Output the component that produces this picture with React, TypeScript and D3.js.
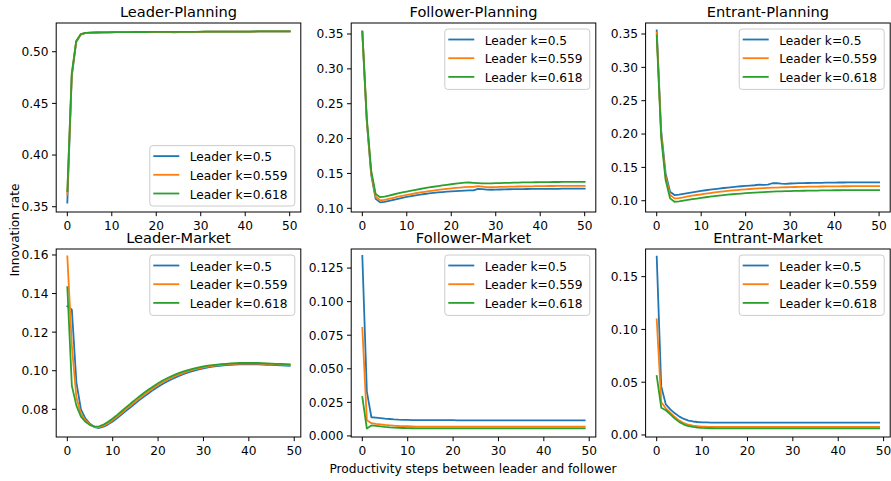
import React from "react";
import * as d3 from "d3";

// ---------- data ----------
const seriesNames = ["Leader k=0.5", "Leader k=0.559", "Leader k=0.618"];
const seriesColors = ["#1f77b4", "#ff7f0e", "#2ca02c"];
const panelTitles = [
  "Leader-Planning", "Follower-Planning", "Entrant-Planning",
  "Leader-Market", "Follower-Market", "Entrant-Market",
];

// Leader-Planning (x = 0..50)
const lpBlue = [0.354, 0.476, 0.5095, 0.5165, 0.518, 0.5183, 0.5185, 0.5186, 0.5187, 0.5188, 0.5188, 0.5189, 0.5189, 0.519, 0.519, 0.519, 0.5191, 0.5191, 0.5191, 0.5191, 0.5192, 0.5192, 0.5191, 0.5189, 0.5188, 0.5189, 0.5192, 0.5193, 0.5193, 0.5193, 0.5193, 0.5194, 0.5194, 0.5194, 0.5194, 0.5194, 0.5195, 0.5195, 0.5195, 0.5195, 0.5195, 0.5195, 0.5195, 0.5196, 0.5196, 0.5196, 0.5196, 0.5196, 0.5196, 0.5196, 0.5196];
const lpOrange = [0.362, 0.478, 0.51, 0.5167, 0.5181, 0.5184, 0.5185, 0.5186, 0.5187, 0.5188, 0.5188, 0.5189, 0.5189, 0.519, 0.519, 0.519, 0.5191, 0.5191, 0.5191, 0.5191, 0.5192, 0.5192, 0.5192, 0.5192, 0.5192, 0.5192, 0.5193, 0.5193, 0.5193, 0.5193, 0.5193, 0.5194, 0.5194, 0.5194, 0.5194, 0.5194, 0.5195, 0.5195, 0.5195, 0.5195, 0.5195, 0.5195, 0.5195, 0.5196, 0.5196, 0.5196, 0.5196, 0.5196, 0.5196, 0.5196, 0.5196];
const lpGreen = [0.365, 0.479, 0.5105, 0.517, 0.5182, 0.5184, 0.5186, 0.5187, 0.5188, 0.5188, 0.5189, 0.5189, 0.519, 0.519, 0.519, 0.5191, 0.5191, 0.5191, 0.5191, 0.5192, 0.5192, 0.5192, 0.5192, 0.5192, 0.5192, 0.5193, 0.5193, 0.5193, 0.5193, 0.5193, 0.5194, 0.5194, 0.5194, 0.5194, 0.5194, 0.5195, 0.5195, 0.5195, 0.5195, 0.5195, 0.5195, 0.5195, 0.5196, 0.5196, 0.5196, 0.5196, 0.5196, 0.5196, 0.5196, 0.5196, 0.5196];

// Follower-Planning (x = 0..50)
const fpBlue = [0.3535, 0.225, 0.148, 0.1135, 0.1085, 0.1092, 0.1106, 0.1121, 0.1136, 0.115, 0.1163, 0.1175, 0.1186, 0.1196, 0.1205, 0.1213, 0.122, 0.1227, 0.1233, 0.1238, 0.1243, 0.1247, 0.1251, 0.1255, 0.1256, 0.1256, 0.1278, 0.1275, 0.1268, 0.1266, 0.1268, 0.127, 0.1272, 0.1273, 0.1274, 0.1275, 0.1276, 0.1277, 0.1278, 0.1278, 0.1279, 0.1279, 0.128, 0.128, 0.128, 0.1281, 0.1281, 0.1281, 0.1281, 0.1282, 0.1282];
const fpOrange = [0.3535, 0.227, 0.15, 0.1165, 0.1115, 0.1122, 0.1136, 0.1151, 0.1166, 0.118, 0.1193, 0.1205, 0.1216, 0.1227, 0.1237, 0.1246, 0.1255, 0.1263, 0.1271, 0.1278, 0.1285, 0.1292, 0.1298, 0.1305, 0.1306, 0.1306, 0.1318, 0.131, 0.1303, 0.1302, 0.1304, 0.1306, 0.1308, 0.131, 0.1312, 0.1313, 0.1314, 0.1315, 0.1316, 0.1317, 0.1318, 0.1319, 0.132, 0.132, 0.1321, 0.1321, 0.1322, 0.1322, 0.1322, 0.1323, 0.1323];
const fpGreen = [0.3535, 0.23, 0.154, 0.1205, 0.116, 0.1168, 0.1183, 0.1198, 0.1213, 0.1227, 0.124, 0.1253, 0.1265, 0.1277, 0.1288, 0.1299, 0.1309, 0.1319, 0.1328, 0.1337, 0.1345, 0.1353, 0.136, 0.1367, 0.137, 0.1366, 0.1362, 0.1358, 0.1357, 0.1358, 0.136, 0.1362, 0.1364, 0.1366, 0.1368, 0.1369, 0.1371, 0.1372, 0.1373, 0.1374, 0.1375, 0.1376, 0.1376, 0.1377, 0.1377, 0.1378, 0.1378, 0.1378, 0.1379, 0.1379, 0.1379];

// Entrant-Planning (x = 0..50)
const epBlue = [0.3555, 0.205, 0.141, 0.1135, 0.1085, 0.109, 0.1102, 0.1114, 0.1126, 0.1137, 0.1147, 0.1157, 0.1166, 0.1175, 0.1183, 0.1191, 0.1198, 0.1205, 0.1211, 0.1217, 0.1222, 0.1227, 0.1232, 0.124, 0.1238, 0.124, 0.1262, 0.1263, 0.1255, 0.1254, 0.1258, 0.1261, 0.1263, 0.1265, 0.1266, 0.1267, 0.1268, 0.1269, 0.127, 0.1271, 0.1272, 0.1273, 0.1273, 0.1274, 0.1274, 0.1275, 0.1275, 0.1275, 0.1276, 0.1276, 0.1276];
const epOrange = [0.352, 0.2, 0.136, 0.1085, 0.1035, 0.104, 0.1052, 0.1064, 0.1075, 0.1086, 0.1096, 0.1106, 0.1115, 0.1124, 0.1132, 0.114, 0.1147, 0.1154, 0.116, 0.1166, 0.1171, 0.1176, 0.1181, 0.1185, 0.1189, 0.1192, 0.1195, 0.1198, 0.12, 0.1202, 0.1204, 0.1206, 0.1208, 0.1209, 0.121, 0.1211, 0.1212, 0.1213, 0.1214, 0.1215, 0.1216, 0.1216, 0.1217, 0.1217, 0.1218, 0.1218, 0.1218, 0.1219, 0.1219, 0.1219, 0.1219];
const epGreen = [0.348, 0.195, 0.131, 0.1035, 0.0985, 0.099, 0.1001, 0.1012, 0.1023, 0.1033, 0.1043, 0.1052, 0.1061, 0.1069, 0.1077, 0.1084, 0.1091, 0.1097, 0.1103, 0.1108, 0.1113, 0.1118, 0.1122, 0.1126, 0.113, 0.1133, 0.1136, 0.1139, 0.1141, 0.1143, 0.1145, 0.1147, 0.1149, 0.115, 0.1151, 0.1152, 0.1153, 0.1154, 0.1155, 0.1156, 0.1157, 0.1157, 0.1158, 0.1158, 0.1159, 0.1159, 0.1159, 0.116, 0.116, 0.116, 0.116];

// Leader-Market (x = 0..49)
const lmBlue = [0.1334, 0.1316, 0.094, 0.08, 0.0752, 0.0725, 0.0708, 0.0703, 0.071, 0.0722, 0.0737, 0.0755, 0.0774, 0.0793, 0.0812, 0.0831, 0.085, 0.0868, 0.0885, 0.0902, 0.0917, 0.0931, 0.0944, 0.0956, 0.0967, 0.0977, 0.0986, 0.0994, 0.1001, 0.1007, 0.1012, 0.1017, 0.1021, 0.1024, 0.1027, 0.1029, 0.1031, 0.1032, 0.1033, 0.1033, 0.1033, 0.1033, 0.1033, 0.1032, 0.1031, 0.103, 0.1029, 0.1028, 0.1027, 0.1026];
const lmOrange = [0.1593, 0.113, 0.0862, 0.0776, 0.0742, 0.0721, 0.0709, 0.0707, 0.0715, 0.0728, 0.0744, 0.0763, 0.0782, 0.0802, 0.0821, 0.084, 0.0859, 0.0877, 0.0894, 0.0911, 0.0926, 0.094, 0.0953, 0.0964, 0.0975, 0.0984, 0.0993, 0.1, 0.1007, 0.1012, 0.1017, 0.1021, 0.1025, 0.1028, 0.1031, 0.1033, 0.1035, 0.1036, 0.1037, 0.1037, 0.1037, 0.1037, 0.1037, 0.1036, 0.1035, 0.1034, 0.1033, 0.1032, 0.1031, 0.103];
const lmGreen = [0.1433, 0.0922, 0.0819, 0.0762, 0.0735, 0.0718, 0.071, 0.0712, 0.0721, 0.0735, 0.0752, 0.0771, 0.0791, 0.0811, 0.0831, 0.085, 0.0869, 0.0887, 0.0904, 0.092, 0.0935, 0.0949, 0.0961, 0.0972, 0.0982, 0.0991, 0.0999, 0.1006, 0.1012, 0.1017, 0.1022, 0.1026, 0.1029, 0.1032, 0.1034, 0.1036, 0.1038, 0.1039, 0.104, 0.104, 0.104, 0.104, 0.104, 0.1039, 0.1038, 0.1037, 0.1036, 0.1035, 0.1034, 0.1033];

// Follower-Market (x = 0..49)
const fmBlue = [0.134, 0.033, 0.0139, 0.0137, 0.0133, 0.0129, 0.0126, 0.0123, 0.0121, 0.012, 0.0119, 0.0118, 0.0117, 0.0117, 0.0117, 0.0117, 0.0117, 0.0117, 0.0117, 0.0117, 0.0117, 0.0116, 0.0116, 0.0116, 0.0116, 0.0116, 0.0116, 0.0116, 0.0116, 0.0116, 0.0116, 0.0116, 0.0116, 0.0116, 0.0116, 0.0116, 0.0116, 0.0116, 0.0116, 0.0116, 0.0116, 0.0116, 0.0116, 0.0116, 0.0116, 0.0116, 0.0116, 0.0116, 0.0116, 0.0116];
const fmOrange = [0.0805, 0.0116, 0.0095, 0.009, 0.0086, 0.0082, 0.0079, 0.0076, 0.0074, 0.0073, 0.0072, 0.0071, 0.007, 0.007, 0.007, 0.007, 0.007, 0.007, 0.007, 0.007, 0.0069, 0.0069, 0.0069, 0.0069, 0.0069, 0.0069, 0.0069, 0.0069, 0.0069, 0.0069, 0.0069, 0.0069, 0.0069, 0.0069, 0.0069, 0.0069, 0.0069, 0.0069, 0.0069, 0.0069, 0.0069, 0.0069, 0.0069, 0.0069, 0.0069, 0.0069, 0.0069, 0.0069, 0.0069, 0.0069];
const fmGreen = [0.029, 0.0055, 0.0078, 0.0075, 0.0071, 0.0067, 0.0064, 0.0062, 0.006, 0.0059, 0.0058, 0.0057, 0.0056, 0.0056, 0.0056, 0.0056, 0.0056, 0.0056, 0.0056, 0.0056, 0.0056, 0.0056, 0.0056, 0.0056, 0.0056, 0.0056, 0.0056, 0.0056, 0.0056, 0.0056, 0.0056, 0.0056, 0.0056, 0.0056, 0.0056, 0.0056, 0.0056, 0.0056, 0.0056, 0.0056, 0.0056, 0.0056, 0.0056, 0.0056, 0.0056, 0.0056, 0.0056, 0.0056, 0.0056, 0.0056];

// Entrant-Market (x = 0..49)
const emBlue = [0.169, 0.046, 0.029, 0.0243, 0.0205, 0.0174, 0.0152, 0.0137, 0.0128, 0.0123, 0.012, 0.0119, 0.0118, 0.0117, 0.0117, 0.0117, 0.0117, 0.0117, 0.0117, 0.0117, 0.0117, 0.0117, 0.0117, 0.0117, 0.0117, 0.0117, 0.0117, 0.0117, 0.0117, 0.0117, 0.0117, 0.0117, 0.0117, 0.0117, 0.0117, 0.0117, 0.0117, 0.0117, 0.0117, 0.0117, 0.0117, 0.0117, 0.0117, 0.0117, 0.0117, 0.0117, 0.0117, 0.0117, 0.0117, 0.0117];
const emOrange = [0.1096, 0.031, 0.0253, 0.0212, 0.017, 0.0136, 0.0112, 0.0097, 0.0088, 0.0083, 0.008, 0.0078, 0.0077, 0.0076, 0.0076, 0.0076, 0.0076, 0.0076, 0.0076, 0.0076, 0.0076, 0.0076, 0.0076, 0.0076, 0.0076, 0.0076, 0.0076, 0.0076, 0.0076, 0.0076, 0.0076, 0.0076, 0.0076, 0.0076, 0.0076, 0.0076, 0.0076, 0.0076, 0.0076, 0.0076, 0.0076, 0.0076, 0.0076, 0.0076, 0.0076, 0.0076, 0.0076, 0.0076, 0.0076, 0.0076];
const emGreen = [0.0559, 0.0259, 0.0234, 0.0196, 0.0155, 0.0122, 0.0099, 0.0085, 0.0076, 0.007, 0.0067, 0.0065, 0.0064, 0.0063, 0.0063, 0.0063, 0.0063, 0.0063, 0.0063, 0.0063, 0.0063, 0.0063, 0.0063, 0.0063, 0.0063, 0.0063, 0.0063, 0.0063, 0.0063, 0.0063, 0.0063, 0.0063, 0.0063, 0.0063, 0.0063, 0.0063, 0.0063, 0.0063, 0.0063, 0.0063, 0.0063, 0.0063, 0.0063, 0.0063, 0.0063, 0.0063, 0.0063, 0.0063, 0.0063, 0.0063];

// tick labels
const xTicks = [0, 10, 20, 30, 40, 50];
const lpTicks = [0.35, 0.4, 0.45, 0.5];
const fpTicks = [0.1, 0.15, 0.2, 0.25, 0.3, 0.35];
const epTicks = [0.1, 0.15, 0.2, 0.25, 0.3, 0.35];
const lmTicks = [0.08, 0.1, 0.12, 0.14, 0.16];
const fmTicks = [0, 0.025, 0.05, 0.075, 0.1, 0.125];
const emTicks = [0, 0.05, 0.1, 0.15];
const yTickFormats = [".2f", ".2f", ".2f", ".2f", ".3f", ".2f"];
const yDomains: [number, number][] = [
  [0.3449, 0.5278], [0.0947, 0.3658], [0.0831, 0.3665],
  [0.06564, 0.1631], [-0.0008, 0.1392], [-0.0019, 0.1762],
];
const xLabel = "Productivity steps between leader and follower";
const yLabel = "Innovation rate";

// ---------- layout ----------
const W = 891, H = 481;
const colLeft = [56.2, 351.2, 645.6];
const axW = 244.6;
const rowBox = [{ top: 23, bottom: 212 }, { top: 249, bottom: 437 }];
const FONT = "'DejaVu Sans', sans-serif";
const tickFS = 12.2;
const titleFS = 14.6;

const panels = [
  { series: [lpBlue, lpOrange, lpGreen], ticks: lpTicks, legend: "lower" },
  { series: [fpBlue, fpOrange, fpGreen], ticks: fpTicks, legend: "upper" },
  { series: [epBlue, epOrange, epGreen], ticks: epTicks, legend: "upper" },
  { series: [lmBlue, lmOrange, lmGreen], ticks: lmTicks, legend: "upper" },
  { series: [fmBlue, fmOrange, fmGreen], ticks: fmTicks, legend: "upper" },
  { series: [emBlue, emOrange, emGreen], ticks: emTicks, legend: "upper" },
];

function Panel({ idx }: { idx: number }) {
  const p = panels[idx];
  const col = idx % 3;
  const row = Math.floor(idx / 3);
  const left = colLeft[col];
  const right = left + axW;
  const { top, bottom } = rowBox[row];
  const n = p.series[0].length - 1;
  const pad = n * 0.05;
  const x = d3.scaleLinear().domain([-pad, n + pad]).range([left, right]);
  const y = d3.scaleLinear().domain(yDomains[idx]).range([bottom, top]);
  const line = d3.line<number>().x((_, i) => x(i)).y((v) => y(v));
  const fmt = d3.format(yTickFormats[idx]);
  const xt = xTicks.filter((t) => t >= x.domain()[0] && t <= x.domain()[1]);

  const lgW = 145, lgH = 60.4;
  const lgX = right - 6 - lgW;
  const lgY = p.legend === "lower" ? bottom - 6 - lgH : top + 6;

  return (
    <g>
      <rect x={left} y={top} width={axW} height={bottom - top} fill="white" />
      <defs>
        <clipPath id={`clip${idx}`}>
          <rect x={left} y={top} width={axW} height={bottom - top} />
        </clipPath>
      </defs>
      <g clipPath={`url(#clip${idx})`}>
        {p.series.map((s, k) => (
          <path key={k} d={line(s) || ""} fill="none" stroke={seriesColors[k]}
            strokeWidth={1.8} strokeLinejoin="round" strokeLinecap="square" />
        ))}
      </g>
      <rect x={left} y={top} width={axW} height={bottom - top} fill="none" stroke="black" strokeWidth={1} />
      {xt.map((t) => (
        <g key={`x${t}`}>
          <line x1={x(t)} x2={x(t)} y1={bottom} y2={bottom + 4.2} stroke="black" strokeWidth={1} />
          <text x={x(t)} y={bottom + 18} textAnchor="middle" fontSize={tickFS} fontFamily={FONT} fill="black">{t}</text>
        </g>
      ))}
      {p.ticks.map((t) => (
        <g key={`y${t}`}>
          <line x1={left - 4.2} x2={left} y1={y(t)} y2={y(t)} stroke="black" strokeWidth={1} />
          <text x={left - 7.6} y={y(t)} dy="0.36em" textAnchor="end" fontSize={tickFS} fontFamily={FONT} fill="black">{fmt(t)}</text>
        </g>
      ))}
      <text x={(left + right) / 2} y={top - 6.5} textAnchor="middle" fontSize={titleFS} fontFamily={FONT} fill="black">{panelTitles[idx]}</text>
      <g>
        <rect x={lgX} y={lgY} width={lgW} height={lgH} rx={3} ry={3} fill="white" fillOpacity={0.8} stroke="#cccccc" strokeWidth={1} />
        {seriesNames.map((name, k) => {
          const cy = lgY + 10.5 + k * 18.7;
          return (
            <g key={name}>
              <line x1={lgX + 3.5} x2={lgX + 29.5} y1={cy} y2={cy} stroke={seriesColors[k]} strokeWidth={1.8} />
              <text x={lgX + 40} y={cy + 5} fontSize={tickFS} fontFamily={FONT} fill="black">{name}</text>
            </g>
          );
        })}
      </g>
    </g>
  );
}

export default function App() {
  return (
    <svg width={W} height={H} viewBox={`0 0 ${W} ${H}`}
      style={{ position: "absolute", left: 0, top: 0, background: "white" }}>
      <rect x={0} y={0} width={W} height={H} fill="white" />
      {panels.map((_, i) => <Panel key={i} idx={i} />)}
      <text x={473} y={473} textAnchor="middle" fontSize={tickFS} fontFamily={FONT} fill="black">{xLabel}</text>
      <text transform="translate(19,230) rotate(-90)" textAnchor="middle" fontSize={tickFS} fontFamily={FONT} fill="black">{yLabel}</text>
    </svg>
  );
}
